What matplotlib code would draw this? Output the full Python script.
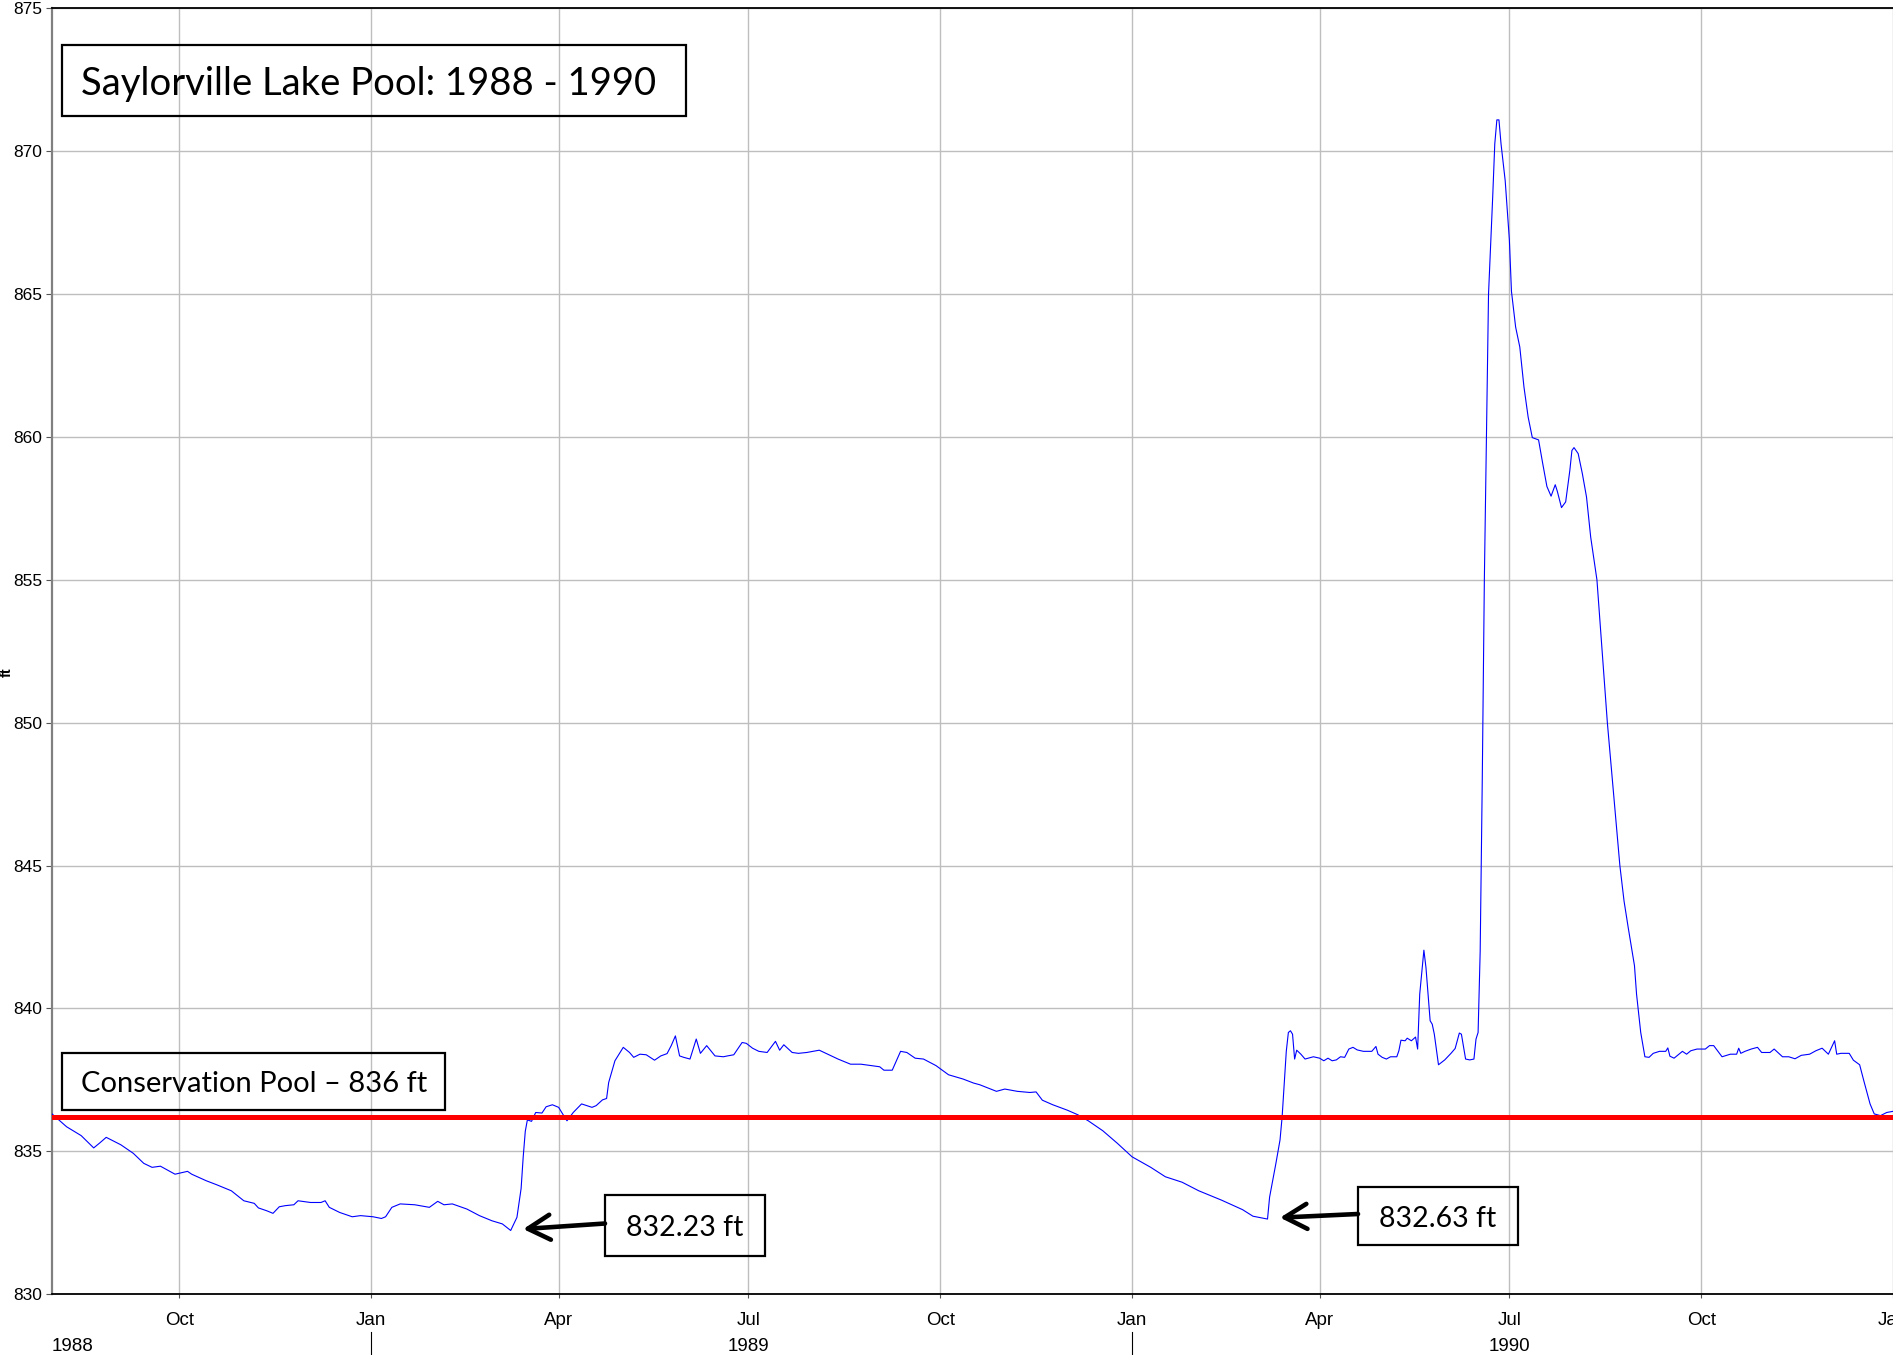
import matplotlib
matplotlib.use('Agg')
import matplotlib.pyplot as plt
import matplotlib.dates as mdates
from matplotlib.patches import Rectangle
import numpy as np
import pandas as pd

# Saylorville lake pool elevation (ft)
dates = [
    '1988-08-01', '1988-08-08', '1988-08-15', '1988-08-21', '1988-08-24', '1988-08-27',
    '1988-09-03', '1988-09-09', '1988-09-14', '1988-09-18', '1988-09-22', '1988-09-29',
    '1988-10-05', '1988-10-07', '1988-10-14', '1988-10-19', '1988-10-26', '1988-11-01',
    '1988-11-06', '1988-11-08', '1988-11-12', '1988-11-15', '1988-11-18', '1988-11-21',
    '1988-11-25', '1988-11-27', '1988-12-03', '1988-12-08', '1988-12-10', '1988-12-12',
    '1988-12-17', '1988-12-23', '1988-12-27', '1989-01-02', '1989-01-06', '1989-01-08',
    '1989-01-11', '1989-01-15', '1989-01-22', '1989-01-29', '1989-02-02', '1989-02-05',
    '1989-02-09', '1989-02-16', '1989-02-22', '1989-02-28', '1989-03-05', '1989-03-09',
    '1989-03-12', '1989-03-14', '1989-03-15', '1989-03-16', '1989-03-17', '1989-03-19',
    '1989-03-21', '1989-03-24', '1989-03-26', '1989-03-29', '1989-04-01', '1989-04-03',
    '1989-04-05', '1989-04-08', '1989-04-12', '1989-04-17', '1989-04-19', '1989-04-22',
    '1989-04-24', '1989-04-25', '1989-04-28', '1989-05-02', '1989-05-05', '1989-05-07',
    '1989-05-10', '1989-05-13', '1989-05-17', '1989-05-20', '1989-05-23', '1989-05-25',
    '1989-05-27', '1989-05-29', '1989-05-31', '1989-06-03', '1989-06-06', '1989-06-08',
    '1989-06-11', '1989-06-15', '1989-06-19', '1989-06-21', '1989-06-24', '1989-06-28',
    '1989-06-30', '1989-07-03', '1989-07-06', '1989-07-10', '1989-07-14', '1989-07-16',
    '1989-07-18', '1989-07-22', '1989-07-25', '1989-07-29', '1989-08-04', '1989-08-13',
    '1989-08-19', '1989-08-24', '1989-09-02', '1989-09-04', '1989-09-08', '1989-09-10',
    '1989-09-12', '1989-09-15', '1989-09-19', '1989-09-23', '1989-09-29', '1989-10-05',
    '1989-10-12', '1989-10-17', '1989-10-20', '1989-10-28', '1989-11-01', '1989-11-07',
    '1989-11-13', '1989-11-16', '1989-11-19', '1989-11-24', '1989-12-01', '1989-12-06',
    '1989-12-11', '1989-12-18', '1989-12-25', '1990-01-01', '1990-01-10', '1990-01-17',
    '1990-01-25', '1990-02-02', '1990-02-13', '1990-02-23', '1990-02-28', '1990-03-07',
    '1990-03-08', '1990-03-11', '1990-03-13', '1990-03-14', '1990-03-16', '1990-03-17',
    '1990-03-18', '1990-03-19', '1990-03-20', '1990-03-21', '1990-03-23', '1990-03-25',
    '1990-03-29', '1990-04-01', '1990-04-03', '1990-04-05', '1990-04-07', '1990-04-09',
    '1990-04-11', '1990-04-13', '1990-04-15', '1990-04-17', '1990-04-19', '1990-04-22',
    '1990-04-26', '1990-04-28', '1990-04-29', '1990-05-01', '1990-05-03', '1990-05-05',
    '1990-05-08', '1990-05-09', '1990-05-10', '1990-05-12', '1990-05-13', '1990-05-15',
    '1990-05-17', '1990-05-18', '1990-05-19', '1990-05-21', '1990-05-22', '1990-05-24',
    '1990-05-25', '1990-05-26', '1990-05-28', '1990-05-31', '1990-06-03', '1990-06-05',
    '1990-06-07', '1990-06-08', '1990-06-10', '1990-06-12', '1990-06-14', '1990-06-15',
    '1990-06-16', '1990-06-17', '1990-06-18', '1990-06-19', '1990-06-20', '1990-06-21',
    '1990-06-23', '1990-06-24', '1990-06-25', '1990-06-26', '1990-06-27', '1990-06-29',
    '1990-07-01', '1990-07-02', '1990-07-04', '1990-07-06', '1990-07-08', '1990-07-10',
    '1990-07-12', '1990-07-15', '1990-07-17', '1990-07-19', '1990-07-21', '1990-07-23',
    '1990-07-24', '1990-07-26', '1990-07-28', '1990-07-30', '1990-07-31', '1990-08-01',
    '1990-08-03', '1990-08-05', '1990-08-07', '1990-08-09', '1990-08-12', '1990-08-17',
    '1990-08-23', '1990-08-25', '1990-08-27', '1990-08-30', '1990-08-31', '1990-09-02',
    '1990-09-04', '1990-09-06', '1990-09-08', '1990-09-11', '1990-09-14', '1990-09-15',
    '1990-09-16', '1990-09-18', '1990-09-20', '1990-09-22', '1990-09-24', '1990-09-26',
    '1990-09-29', '1990-10-03', '1990-10-05', '1990-10-07', '1990-10-11', '1990-10-15',
    '1990-10-18', '1990-10-19', '1990-10-20', '1990-10-22', '1990-10-25', '1990-10-28',
    '1990-10-30', '1990-11-03', '1990-11-05', '1990-11-09', '1990-11-12', '1990-11-15',
    '1990-11-18', '1990-11-22', '1990-11-25', '1990-11-28', '1990-12-01', '1990-12-04',
    '1990-12-05', '1990-12-07', '1990-12-11', '1990-12-13', '1990-12-16', '1990-12-18',
    '1990-12-21', '1990-12-23', '1990-12-26', '1990-12-29', '1991-01-01',
]
levels = [
    836.31, 835.86, 835.55, 835.12, 835.30, 835.49,
    835.23, 834.93, 834.58, 834.44, 834.48, 834.20,
    834.30, 834.20, 833.97, 833.83, 833.62, 833.27,
    833.18, 833.02, 832.92, 832.83, 833.06, 833.10,
    833.13, 833.27, 833.21, 833.21, 833.27, 833.04,
    832.86, 832.71, 832.75, 832.71, 832.65, 832.71,
    833.04, 833.16, 833.13, 833.04, 833.25, 833.13,
    833.16, 832.98, 832.75, 832.57, 832.46, 832.23,
    832.69, 833.70, 834.80, 835.70, 836.10, 836.05,
    836.36, 836.34, 836.56, 836.63, 836.54, 836.30,
    836.07, 836.36, 836.66, 836.54, 836.60, 836.80,
    836.85, 837.41, 838.17, 838.64, 838.46, 838.29,
    838.40, 838.38, 838.19, 838.34, 838.42, 838.70,
    839.04, 838.34, 838.29, 838.23, 838.93, 838.43,
    838.70, 838.34, 838.31, 838.34, 838.38, 838.81,
    838.78, 838.61, 838.50, 838.46, 838.85, 838.54,
    838.73, 838.46, 838.43, 838.46, 838.54, 838.23,
    838.05, 838.05, 837.96, 837.84, 837.84, 838.17,
    838.50, 838.46, 838.26, 838.23, 838.00, 837.68,
    837.53, 837.39, 837.33, 837.10, 837.18, 837.10,
    837.06, 837.08, 836.79, 836.63, 836.44, 836.28,
    836.07, 835.72, 835.28, 834.81, 834.44, 834.11,
    833.92, 833.62, 833.29, 832.96, 832.73, 832.63,
    833.40, 834.57, 835.40, 836.20, 838.50, 839.16,
    839.22, 839.10, 838.23, 838.54, 838.40, 838.23,
    838.31, 838.26, 838.17, 838.26, 838.17, 838.20,
    838.31, 838.29, 838.58, 838.64, 838.55, 838.50,
    838.50, 838.67, 838.40, 838.29, 838.23, 838.31,
    838.31, 838.52, 838.89, 838.87, 838.96, 838.87,
    839.00, 838.58, 840.50, 842.04, 841.43, 839.57,
    839.45, 839.10, 838.03, 838.20, 838.43, 838.60,
    839.14, 839.10, 838.23, 838.20, 838.23, 838.93,
    839.16, 842.00, 848.00, 855.00, 860.00, 865.00,
    868.40, 870.26, 871.10, 871.10, 870.26, 868.97,
    866.90, 865.10, 863.85, 863.15, 861.75, 860.70,
    859.98, 859.90, 859.07, 858.27, 857.93, 858.33,
    858.10, 857.53, 857.73, 858.83, 859.53, 859.63,
    859.42, 858.72, 857.90, 856.50, 855.00, 850.00,
    845.00, 843.76, 842.83, 841.50, 840.50, 839.16,
    838.31, 838.29, 838.43, 838.50, 838.50, 838.62,
    838.33, 838.26, 838.38, 838.50, 838.40, 838.52,
    838.58, 838.58, 838.70, 838.70, 838.31, 838.40,
    838.40, 838.61, 838.43, 838.50, 838.58, 838.64,
    838.46, 838.46, 838.58, 838.31, 838.31, 838.24,
    838.36, 838.40, 838.52, 838.61, 838.40, 838.87,
    838.40, 838.43, 838.43, 838.19, 838.03, 837.47,
    836.66, 836.31, 836.25, 836.36, 836.40,
]

conservation_pool = 836.2
title_text = 'Saylorville Lake Pool: 1988 - 1990'
pool_text = 'Conservation Pool \u2013 836 ft'
low_texts = ['832.23 ft', '832.63 ft']
low_windows = [('1989-01-01', '1989-06-01'), ('1990-01-01', '1990-06-01')]
year_labels = ['1988', '1989', '1990']
year_label_dates = ['1988-08-01', '1989-07-01', '1990-07-01']
year_breaks = ['1989-01-01', '1990-01-01']

W, H = 1893, 1355
t = pd.to_datetime(dates)
v = np.array(levels)

plt.rcParams['font.family'] = ['Liberation Sans Narrow', 'Liberation Sans', 'DejaVu Sans']
box_font = ['Lato', 'DejaVu Sans']

fig = plt.figure(figsize=(W / 100, H / 100), dpi=100)
ax = fig.add_axes([52 / W, 1 - 1294.2 / H, 1 - 52 / W, (1294.2 - 8.45) / H])

ax.plot(t, v, color='blue', lw=0.8, zorder=3)
ax.axhline(conservation_pool, color='red', lw=3.6, zorder=4)

ax.set_xlim(pd.Timestamp('1988-08-01'), pd.Timestamp('1991-01-01'))
ax.set_ylim(830, 875)
ax.set_yticks(np.arange(830, 876, 5))
ax.xaxis.set_major_locator(mdates.MonthLocator(bymonth=[1, 4, 7, 10]))
ax.xaxis.set_major_formatter(mdates.DateFormatter('%b'))
ax.grid(True, color='#bebebe', lw=1.0, zorder=0)
ax.tick_params(axis='y', labelsize=12.5, length=4, pad=3, color='#555555')
ax.tick_params(axis='x', labelsize=13.5, length=3, pad=10, color='#555555')

for s in ['top', 'bottom']:
    ax.spines[s].set_color('black')
    ax.spines[s].set_linewidth(1.3)
ax.spines['left'].set_color('#808080')
ax.spines['left'].set_linewidth(1.6)
ax.spines['right'].set_visible(False)

# year row under month labels
trans = ax.get_xaxis_transform()
for lab, d in zip(year_labels, year_label_dates):
    ha = 'left' if lab == year_labels[0] else 'center'
    ax.text(pd.Timestamp(d), -0.041, lab, transform=trans, ha=ha, va='center',
            fontsize=13.5)
for d in year_breaks:
    ax.plot([pd.Timestamp(d)] * 2, [-0.0296, -0.05], transform=trans,
            color='black', lw=0.8, clip_on=False)

fig.text(7 / W, 1 - 672 / H, 'ft', rotation=90, fontsize=10.5, fontweight='bold',
         ha='center', va='center')


def box(x0, y0, x1, y1, text, size, tx=None):
    fig.add_artist(Rectangle((x0 / W, 1 - y1 / H), (x1 - x0) / W, (y1 - y0) / H,
                             transform=fig.transFigure, fill=False,
                             ec='black', lw=1.6, zorder=10))
    yc = 1 - ((y0 + y1) / 2 + 3) / H
    if tx is None:
        fig.text((x0 + x1) / 2 / W, yc, text, fontsize=size,
                 family=box_font, ha='center', va='center', zorder=11)
    else:
        fig.text(tx / W, yc, text, fontsize=size,
                 family=box_font, ha='left', va='center', zorder=11)


box(62, 45, 686, 116, title_text, 27.5, tx=81)
box(62, 1053, 445, 1110, pool_text, 21, tx=81)

low_boxes = [(605, 1195, 765, 1256), (1358, 1187, 1518, 1245)]
for (a, b), text, (x0, y0, x1, y1) in zip(low_windows, low_texts, low_boxes):
    m = (t >= a) & (t < b)
    i = np.argmin(np.where(m, v, np.inf))
    box(x0, y0, x1, y1, text, 20.5)
    ax.annotate('', xy=(t[i] + pd.Timedelta(days=6), v[i] + 0.05),
                xytext=(x0, H - (y0 + y1) / 2 + 2), textcoords='figure pixels',
                arrowprops=dict(arrowstyle='->,head_length=0.8,head_width=0.45',
                                mutation_scale=20, lw=3.3, color='black',
                                shrinkA=0, shrinkB=0),
                annotation_clip=False, zorder=12)

fig.savefig('out.png', dpi=100)
